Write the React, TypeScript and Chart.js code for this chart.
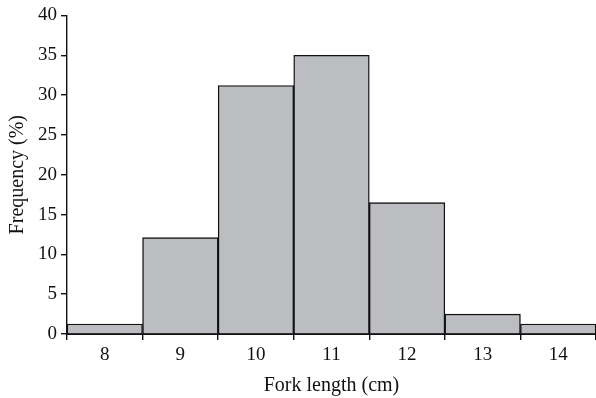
import React, { useEffect, useRef } from "react";
import { Chart, registerables } from "chart.js";

Chart.register(...registerables);

const categories = ["8", "9", "10", "11", "12", "13", "14"];
const frequency = [1.25, 12.1, 31.2, 35.0, 16.5, 2.5, 1.25];
const yTicks = [0, 5, 10, 15, 20, 25, 30, 35, 40];

const FONT = "'Liberation Serif', 'Times New Roman', serif";

export default function App() {
  const ref = useRef<HTMLCanvasElement | null>(null);
  useEffect(() => {
    document.body.style.margin = "0";
    const ctx = ref.current!;
    const chart = new Chart(ctx, {
      type: "bar",
      data: {
        labels: categories,
        datasets: [
          {
            data: frequency,
            backgroundColor: "#bcbdc0",
            borderColor: "#111111",
            borderWidth: 1.4,
            categoryPercentage: 1,
            barPercentage: 1,
          },
        ],
      },
      options: {
        animation: false,
        responsive: false,
        devicePixelRatio: 1,
        layout: { padding: { top: 14, right: 0, left: 0, bottom: 0 } },
        plugins: { legend: { display: false }, tooltip: { enabled: false } },
        scales: {
          x: {
            offset: true,
            grid: {
              display: true,
              offset: true,
              drawOnChartArea: false,
              drawTicks: true,
              tickLength: 6,
              color: "#111111",
              lineWidth: 1.4,
            },
            border: { display: true, color: "#111111", width: 2 },
            ticks: { color: "#111111", font: { family: FONT, size: 19 }, padding: 4 },
            title: {
              display: true,
              text: "Fork length (cm)",
              color: "#111111",
              font: { family: FONT, size: 20 },
              padding: { top: 4, bottom: 0 },
            },
            afterFit: (s: any) => {
              s.height = 64;
            },
          },
          y: {
            min: 0,
            max: 40,
            afterBuildTicks: (s: any) => {
              s.ticks = yTicks.map((v) => ({ value: v }));
            },
            grid: {
              display: true,
              drawOnChartArea: false,
              drawTicks: true,
              tickLength: 6,
              color: "#111111",
              lineWidth: 1.4,
            },
            border: { display: true, color: "#111111", width: 1.4 },
            ticks: { color: "#111111", font: { family: FONT, size: 19 }, padding: 4 },
            title: {
              display: true,
              text: "Frequency (%)",
              color: "#111111",
              font: { family: FONT, size: 20 },
              padding: { top: 6, bottom: 4 },
            },
            afterFit: (s: any) => {
              s.width = 67;
            },
          },
        },
      },
    });
    return () => chart.destroy();
  }, []);
  return (
    <div style={{ width: 596, height: 398 }}>
      <canvas ref={ref} width={596} height={398} style={{ display: "block" }} />
    </div>
  );
}
